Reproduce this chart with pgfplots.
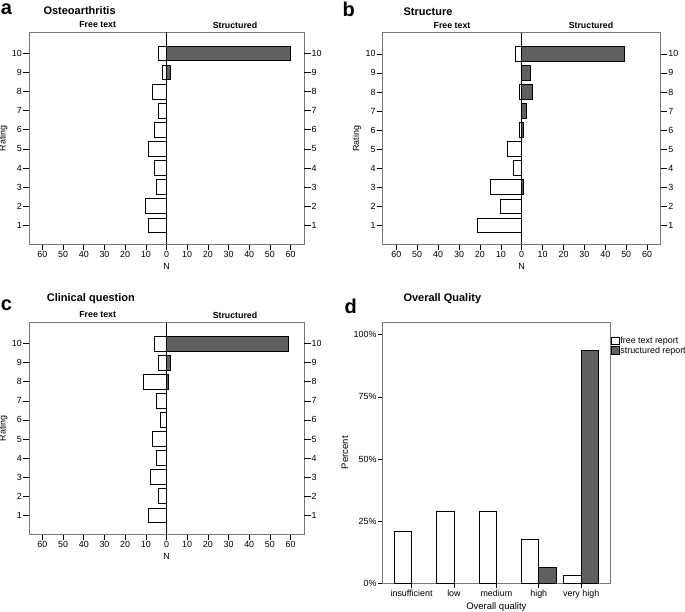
\documentclass[border=0pt]{standalone}
\usepackage{fontspec}
\setmainfont{Liberation Sans}
\usepackage{pgfplots}
\pgfplotsset{compat=1.18}
\definecolor{darkbar}{RGB}{96,96,96}
\definecolor{framegray}{RGB}{120,120,120}
\newcommand{\fs}{\fontsize{8.9}{10}\selectfont}
\newcommand{\fsb}{\bfseries\fontsize{8.8}{10}\selectfont}
\pgfplotsset{
  base/.style={scale only axis, anchor=north west,
    axis line style={framegray, line width=0.9pt},
    tick style={black, line width=0.6pt},
    tick align=outside, major tick length=6pt,
    /pgf/number format/assume math mode=true,
    tick label style={font=\fs},
    label style={font=\fs},
    clip=false},
  pyr/.style={base, xmin=-66.5, xmax=66.5, ymin=0, ymax=11.1,
    xtick={-60,-50,...,60},
    xticklabels={60,50,40,30,20,10,0,10,20,30,40,50,60},
    ytick={1,...,10}, xtick pos=left, ytick pos=left,
    xticklabel style={inner sep=1pt}, yticklabel style={inner sep=1pt},
    xlabel={N}, ylabel={Rating},
    xlabel style={at={(axis description cs:0.5,-0.105)}, anchor=center},
    ylabel style={at={(axis description cs:-0.093,0.5)}, anchor=center}},
  rlab/.style={scale only axis, anchor=north west, xmin=-66.5, xmax=66.5, ymin=0, ymax=11.1,
    hide x axis, axis y line*=right, ytick={1,...,10},
    axis line style={draw=none}, tick style={black, line width=0.6pt},
    tick align=outside, major tick length=6.5pt,
    /pgf/number format/assume math mode=true,
    yticklabel style={inner sep=1pt, font=\fs}},
  freebar/.style={draw=black, fill=white, line width=0.7pt},
  strbar/.style={draw=black, fill=darkbar, line width=0.7pt},
  lgbox/.style={legend image code/.code={\draw[##1] (0pt,-3.6pt) rectangle (8pt,4pt);}},
}
\begin{document}
\begin{tikzpicture}
\useasboundingbox (0pt,0pt) rectangle (685pt,-612pt);

% ---------- panel a ----------
\begin{axis}[pyr, at={(29pt,-32.4pt)}, width=275pt, height=211.9pt]
\addplot[xbar, bar width=0.77, bar shift=0, freebar] coordinates
  {(-4,10) (-2,9) (-7,8) (-4,7) (-6,6) (-9,5) (-6,4) (-5,3) (-10,2) (-9,1)};
\addplot[xbar, bar width=0.77, bar shift=0, strbar] coordinates {(60,10) (2,9)};
\draw[black, line width=0.8pt] (axis cs:0,0) -- (axis cs:0,11.1);
\end{axis}
\begin{axis}[rlab, at={(29pt,-32.4pt)}, width=275pt, height=211.9pt]
\end{axis}
\node[anchor=west, inner sep=0pt, font=\bfseries\fontsize{20}{20}\selectfont] at (0.8pt,-9.5pt) {a};
\node[anchor=west, inner sep=0pt, font=\bfseries\fontsize{11}{12}\selectfont] at (43.3pt,-10.5pt) {Osteoarthritis};
\node[inner sep=0pt, font=\fsb] at (97.7pt,-25pt) {Free text};
\node[inner sep=0pt, font=\fsb] at (235pt,-25pt) {Structured};

% ---------- panel b ----------
\begin{axis}[pyr, at={(382.7pt,-32.9pt)}, width=278pt, height=211.4pt]
\addplot[xbar, bar width=0.77, bar shift=0, freebar] coordinates
  {(-3,10) (-1,8) (-1,6) (-7,5) (-4,4) (-15,3) (-10,2) (-21,1)};
\addplot[xbar, bar width=0.77, bar shift=0, strbar] coordinates
  {(49,10) (4,9) (5,8) (2,7) (1,6) (1,3)};
\draw[black, line width=0.8pt] (axis cs:0,0) -- (axis cs:0,11.1);
\end{axis}
\begin{axis}[rlab, at={(382.7pt,-32.9pt)}, width=278pt, height=211.4pt]
\end{axis}
\node[anchor=west, inner sep=0pt, font=\bfseries\fontsize{20}{20}\selectfont] at (342.5pt,-9pt) {b};
\node[anchor=west, inner sep=0pt, font=\bfseries\fontsize{11}{12}\selectfont] at (403.3pt,-12pt) {Structure};
\node[inner sep=0pt, font=\fsb] at (452pt,-25.7pt) {Free text};
\node[inner sep=0pt, font=\fsb] at (591pt,-25.7pt) {Structured};

% ---------- panel c ----------
\begin{axis}[pyr, at={(29pt,-322.7pt)}, width=275pt, height=211.6pt]
\addplot[xbar, bar width=0.77, bar shift=0, freebar] coordinates
  {(-6,10) (-4,9) (-11,8) (-5,7) (-3,6) (-7,5) (-5,4) (-8,3) (-4,2) (-9,1)};
\addplot[xbar, bar width=0.77, bar shift=0, strbar] coordinates {(59,10) (2,9) (1,8)};
\draw[black, line width=0.8pt] (axis cs:0,0) -- (axis cs:0,11.1);
\end{axis}
\begin{axis}[rlab, at={(29pt,-322.7pt)}, width=275pt, height=211.6pt]
\end{axis}
\node[anchor=west, inner sep=0pt, font=\bfseries\fontsize{20}{20}\selectfont] at (0.8pt,-305.3pt) {c};
\node[anchor=west, inner sep=0pt, font=\bfseries\fontsize{11}{12}\selectfont] at (46.7pt,-299pt) {Clinical question};
\node[inner sep=0pt, font=\fsb] at (97.7pt,-315pt) {Free text};
\node[inner sep=0pt, font=\fsb] at (235pt,-315pt) {Structured};

% ---------- panel d ----------
\begin{axis}[base, at={(382.7pt,-322pt)}, width=227.3pt, height=261.3pt,
  xmin=-0.68, xmax=4.68, ymin=0, ymax=105.1,
  xtick={0,...,4}, xticklabels={insufficient,low,medium,high,very high},
  ytick={0,25,50,75,100}, yticklabel={\pgfmathprintnumber{\tick}\%},
  xtick pos=left, ytick pos=left, major tick length=5pt,
  xticklabel style={inner sep=1.5pt}, yticklabel style={inner sep=1pt},
  xlabel={Overall quality}, ylabel={Percent},
  label style={font=\fontsize{9.5}{10}\selectfont},
  xlabel style={at={(axis description cs:0.5,-0.091)}, anchor=center},
  ylabel style={at={(axis description cs:-0.166,0.5)}, anchor=center},
  legend style={at={(1,1)}, anchor=north west, xshift=0.5pt, yshift=-14pt,
    draw=none, fill=none, font=\fs, inner sep=0pt, row sep=-0.5pt,
    nodes={inner sep=1pt}},
  legend cell align=left]
\addplot[ybar, bar width=0.41, bar shift=-0.205, freebar, lgbox]
  coordinates {(0,20.97) (1,29.03) (2,29.03) (3,17.74) (4,3.23)};
\addlegendentry{free text report}
\addplot[ybar, bar width=0.41, bar shift=0.205, strbar, lgbox]
  coordinates {(3,6.45) (4,93.55)};
\addlegendentry{structured report}
\end{axis}
\node[anchor=west, inner sep=0pt, font=\bfseries\fontsize{20}{20}\selectfont] at (344.5pt,-306pt) {d};
\node[anchor=west, inner sep=0pt, font=\bfseries\fontsize{11}{12}\selectfont] at (403.3pt,-299pt) {Overall Quality};
\end{tikzpicture}
\end{document}
